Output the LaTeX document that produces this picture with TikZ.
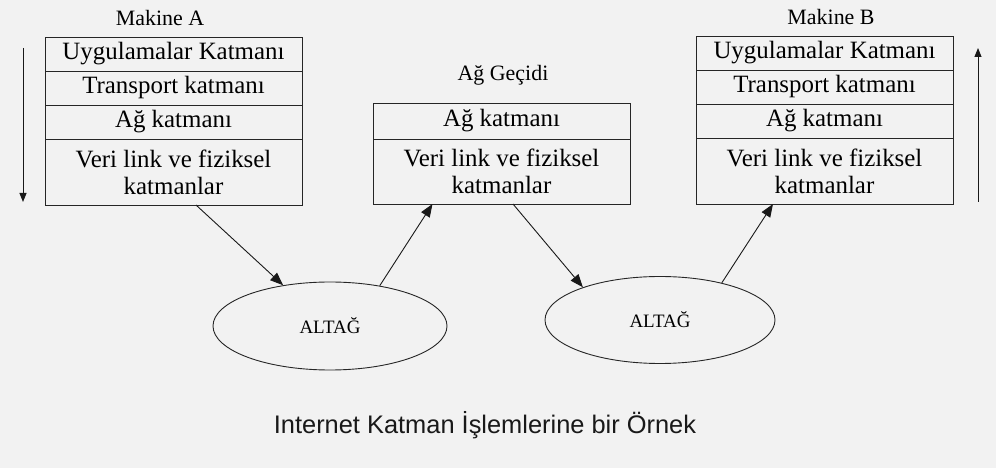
\documentclass[tikz,border=0pt]{standalone}
\usepackage{fontspec}
\setmainfont{Liberation Serif}
\newfontfamily\capfont{Liberation Sans}
\usetikzlibrary{positioning,arrows.meta,shapes.geometric}

\begin{document}
\begin{tikzpicture}[x=1bp,y=-1bp,
    layer/.style={draw=black!85,line width=0.9bp,minimum width=257bp,minimum height=34bp,inner sep=0pt,outer sep=0pt,font=\fontsize{25}{27}\selectfont},
    phys/.style={layer,minimum height=66bp,align=center},
    net/.style={ellipse,draw=black!85,line width=0.9bp,minimum width=234bp,minimum height=88bp,inner sep=0pt,font=\fontsize{19}{20}\selectfont},
    hop/.style={-{Triangle[length=13bp,width=10bp]},line width=0.9bp,black!90},
    flow/.style={-{Triangle[length=9bp,width=7bp]},line width=1bp,black!90},
    machine/.style={font=\fontsize{22}{24}\selectfont}]
  \fill[black!5] (0,0) rectangle (996,468);
  % Makine A
  \node[machine] (ma) at (160,18) {Makine A};
  \node[layer] (ua) at (173.5,54) {Uygulamalar Katmanı};
  \node[layer,below=0pt of ua] (ta) {Transport katmanı};
  \node[layer,below=0pt of ta] (aa) {Ağ katmanı};
  \node[phys,below=0pt of aa] (va) {Veri link ve fiziksel\\katmanlar};
  % gateway
  \node[machine] (gl) at (503,75) {Ağ Geçidi};
  \node[layer,minimum height=36bp] (ag) at (501.5,121) {Ağ katmanı};
  \node[phys,minimum height=65bp,below=0pt of ag] (vg) {Veri link ve fiziksel\\katmanlar};
  % Makine B
  \node[machine] (mb) at (831,17) {Makine B};
  \node[layer] (ub) at (824.5,53) {Uygulamalar Katmanı};
  \node[layer,below=0pt of ub] (tb) {Transport katmanı};
  \node[layer,below=0pt of tb] (ab) {Ağ katmanı};
  \node[phys,below=0pt of ab] (vb) {Veri link ve fiziksel\\katmanlar};
  % subnets
  \node[net] (alt1) at (330,326) {ALTAĞ};
  \node[net,minimum width=230bp,minimum height=87bp] (alt2) at (660,320) {ALTAĞ};
  \draw[hop] ([xshift=22.5bp]va.south) -- (alt1.139);
  \draw[hop] (alt1.39) -- ([xshift=-69bp]vg.south);
  \draw[hop] ([xshift=11.5bp]vg.south) -- (alt2.157);
  \draw[hop] (alt2.31) -- ([xshift=-51.5bp]vb.south);
  % direction of the stacks
  \coordinate (dtop) at (23,48);
  \coordinate (dbot) at (23,202);
  \coordinate (utop) at (978,48);
  \coordinate (ubot) at (978,202);
  \draw[flow] (dtop) -- (dbot);
  \draw[flow] (ubot) -- (utop);
  \node[font=\capfont\fontsize{25.5}{28}\selectfont,text=black!90] (cap) at (485,425) {Internet Katman İşlemlerine bir Örnek};
\end{tikzpicture}
\end{document}
